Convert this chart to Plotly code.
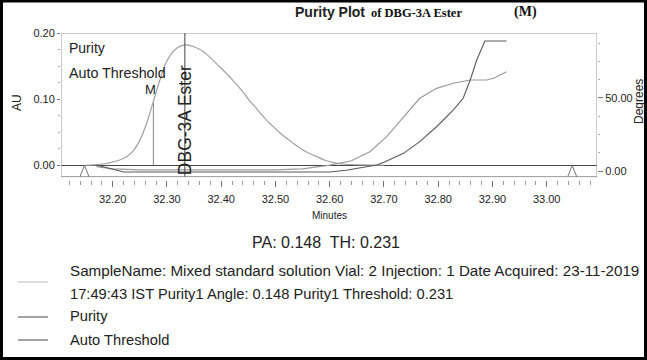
import plotly.graph_objects as go

# ---------------- data ----------------
# chromatogram (AU, left axis)
chrom_t = [32.150, 32.165, 32.177, 32.190, 32.200, 32.213, 32.226, 32.238, 32.250,
           32.262, 32.274, 32.287, 32.300, 32.318, 32.333, 32.347, 32.361, 32.377,
           32.392, 32.407, 32.422, 32.438, 32.453, 32.468, 32.484, 32.499, 32.514,
           32.530, 32.545, 32.560, 32.576, 32.590, 32.607, 32.630, 32.660, 32.700]
chrom_au = [0.000, 0.0005, 0.0015, 0.003, 0.005, 0.008, 0.013, 0.022, 0.038,
            0.062, 0.094, 0.129, 0.158, 0.177, 0.182, 0.180, 0.175, 0.165,
            0.153, 0.141, 0.128, 0.113, 0.097, 0.083, 0.068, 0.056, 0.045,
            0.035, 0.026, 0.019, 0.013, 0.008, 0.004, 0.0015, 0.0005, 0.000]

# purity angle curve (degrees, right axis)
purity_t = [32.170, 32.200, 32.250, 32.350, 32.450, 32.500, 32.550, 32.600, 32.640,
            32.674, 32.705, 32.736, 32.766, 32.797, 32.828, 32.859, 32.889, 32.902, 32.926]
purity_deg = [3.0, 1.5, 0.8, 0.6, 0.6, 0.8, 1.5, 4.0, 7.0,
              13.2, 23.5, 37.2, 49.8, 56.6, 60.1, 62.3, 62.3, 63.5, 68.0]

# auto threshold curve (degrees, right axis)
thresh_t = [32.170, 32.190, 32.220, 32.400, 32.600, 32.630, 32.660, 32.687, 32.700,
            32.736, 32.766, 32.797, 32.828, 32.846, 32.859, 32.871, 32.886, 32.926]
thresh_deg = [4.1, 2.0, -0.7, -0.7, -0.7, 0.5, 2.3, 4.1, 6.0,
              12.1, 20.1, 30.3, 41.8, 49.8, 62.3, 76.0, 89.0, 89.0]

# peak / integration events
peak_name = "DBG-3A Ester"
peak_apex_t = 32.333
mark_t = 32.275
mark_au = 0.094
mark_label = "M"
event_t = [32.148, 33.047]

x_ticks = [32.20, 32.30, 32.40, 32.50, 32.60, 32.70, 32.80, 32.90, 33.00]
au_ticks = [0.00, 0.10, 0.20]
deg_ticks = [0.0, 50.0]

# ---------------- figure ----------------
FONT = "Liberation Sans, Arial, sans-serif"
SERIF = "Liberation Serif, Times New Roman, serif"

fig = go.Figure()

fig.add_trace(go.Scatter(x=chrom_t, y=chrom_au, mode="lines", line_shape="spline",
                         line=dict(color="#a0a0a0", width=1.2), showlegend=False))
fig.add_trace(go.Scatter(x=purity_t, y=purity_deg, mode="lines", yaxis="y2",
                         line=dict(color="#9a9a9a", width=1.2), showlegend=False))
fig.add_trace(go.Scatter(x=thresh_t, y=thresh_deg, mode="lines", yaxis="y2",
                         line=dict(color="#5a5a5a", width=1.1), showlegend=False))

X0, X1 = 32.1047, 33.0927
Y0, Y1 = -0.0223, 0.2
BOX_BOTTOM = -0.0172

shapes = []
# plot frame
shapes.append(dict(type="rect", xref="x", yref="y", x0=X0, x1=X1, y0=BOX_BOTTOM, y1=Y1,
                   line=dict(color="#9a9a9a", width=1)))
# peak apex line
shapes.append(dict(type="line", xref="x", yref="y", x0=peak_apex_t, x1=peak_apex_t,
                   y0=BOX_BOTTOM, y1=Y1, line=dict(color="#444", width=1)))
# M marker line
shapes.append(dict(type="line", xref="x", yref="y", x0=mark_t, x1=mark_t,
                   y0=0, y1=mark_au, line=dict(color="#888", width=1)))
# event triangles
for t in event_t:
    shapes.append(dict(type="path", xref="x", yref="y",
                       path=f"M {t-0.0082},{BOX_BOTTOM} L {t},0 L {t+0.0082},{BOX_BOTTOM}",
                       line=dict(color="#777", width=1)))

# outer black frame (paper coords; plot area 61..597 x, 33..180 y)
def px(xp):
    return (xp - 61) / 536.0

def py(yp):
    return (180 - yp) / 147.0

shapes.append(dict(type="rect", xref="paper", yref="paper",
                   x0=px(1.5), x1=px(645.5), y0=py(358.5), y1=py(1.0),
                   line=dict(color="black", width=3)))
# legend samples at bottom
shapes.append(dict(type="line", xref="paper", yref="paper", x0=px(18), x1=px(48),
                   y0=py(282), y1=py(282), line=dict(color="#bbbbbb", width=1)))
shapes.append(dict(type="line", xref="paper", yref="paper", x0=px(18), x1=px(48),
                   y0=py(317), y1=py(317), line=dict(color="#444", width=1)))
shapes.append(dict(type="line", xref="paper", yref="paper", x0=px(18), x1=px(48),
                   y0=py(340), y1=py(340), line=dict(color="#444", width=1)))

ann = []
def A(text, x, y, size, xanchor="left", font=FONT, color="#222", textangle=0, ref="paper", **kw):
    d = dict(text=text, x=x, y=y, xref=ref if ref != "data" else "x",
             yref=ref if ref != "data" else "y", showarrow=False, xanchor=xanchor,
             yanchor="middle", textangle=textangle,
             font=dict(family=font, size=size, color=color))
    d.update(kw)
    ann.append(d)

# title
A("<b>Purity Plot</b>", px(293), py(12), 14, xanchor="left")
A("<b>of DBG-3A Ester</b>", px(369), py(13), 12.5, xanchor="left", font=SERIF, color="#111")
A("<b>(M)</b>", px(512), py(12), 14, xanchor="left", font=SERIF, color="#111")
# in-plot labels
A("Purity", px(67), py(48), 14)
A("Auto Threshold", px(67), py(73), 14.3)
A(mark_label, mark_t - 0.006, 0.114, 13, xanchor="center", ref="data")
A(peak_name, peak_apex_t, 0.068, 17.5, xanchor="center", textangle=-90, ref="data")
# axis titles
A("AU", px(17), py(103), 12, xanchor="center", textangle=-90)
A("Degrees", px(639), py(102), 12, xanchor="center", textangle=-90)
A("Minutes", px(329), py(215), 10, xanchor="center")
# bottom text
A("PA: 0.148  TH: 0.231", px(326), py(242), 16, xanchor="center")
A("SampleName: Mixed standard solution Vial: 2 Injection: 1 Date Acquired: 23-11-2019",
  px(68), py(270), 15.2)
A("17:49:43 IST Purity1 Angle: 0.148 Purity1 Threshold: 0.231", px(68), py(294), 14.7)
A("Purity", px(68), py(316), 14.7)
A("Auto Threshold", px(68), py(340), 14.7)

fig.update_layout(
    width=647, height=360,
    margin=dict(l=61, r=50, t=33, b=180, autoexpand=False),
    paper_bgcolor="white", plot_bgcolor="white",
    font=dict(family=FONT, size=11, color="#222"),
    shapes=shapes, annotations=ann, showlegend=False,
    xaxis=dict(range=[X0, X1], tickvals=x_ticks, tickformat=".2f", ticks="outside",
               ticklen=6, tickcolor="#777", showgrid=False, zeroline=False, showline=False,
               ticklabelstandoff=3,
               minor=dict(dtick=0.02, tick0=32.2, ticks="outside", ticklen=4, tickcolor="#999"),
               tickfont=dict(size=11)),
    yaxis=dict(range=[Y0, Y1], tickvals=au_ticks, tickformat=".2f", ticks="outside",
               ticklen=3, tickcolor="#777", showgrid=False, zeroline=True,
               zerolinecolor="#444", zerolinewidth=1, showline=False,
               minor=dict(dtick=0.025, tick0=0, ticks="outside", ticklen=2, tickcolor="#aaa"),
               tickfont=dict(size=11)),
    yaxis2=dict(range=[-6.16, 94.5], overlaying="y", side="right", tickvals=deg_ticks,
                tickformat=".2f", ticks="outside", ticklen=5, tickcolor="#777",
                showgrid=False, zeroline=False, showline=False,
                minor=dict(dtick=12.5, tick0=0, ticks="outside", ticklen=2, tickcolor="#aaa"),
                tickfont=dict(size=11)),
)

fig.write_html("out.html")
